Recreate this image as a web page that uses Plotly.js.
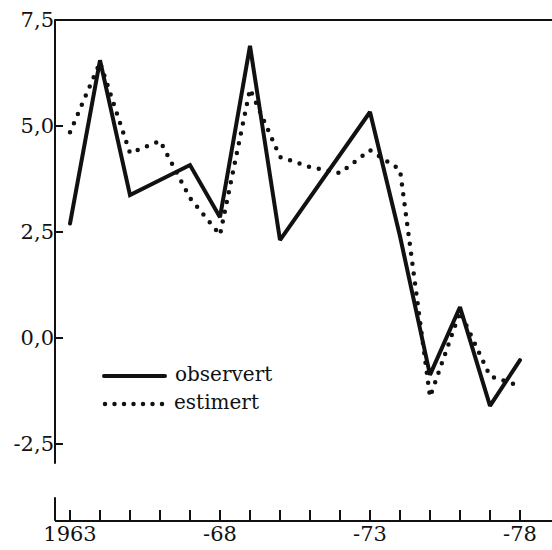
<!DOCTYPE html>
<html>
<head>
<meta charset="utf-8">
<script src="https://cdn.plot.ly/plotly-3.0.1.min.js"></script>
<style>
html, body { margin:0; padding:0; background:#fff; }
#chart { width:552px; height:550px; }
.scatterlayer .js-line { stroke-linecap: round !important; }
.shapelayer path { stroke-linecap: round !important; }
</style>
</head>
<body>
<div id="chart"></div>
<script>
// ---- data ----
var years = [1963,1964,1965,1966,1967,1968,1969,1970,1971,1972,1973,1974,1975,1976,1977,1978];
var observert = [2.7, 6.55, 3.37, 3.72, 4.08, 2.85, 6.89, 2.31, 3.32, 4.32, 5.33, 2.4, -0.87, 0.73, -1.6, -0.52];
var estimert  = [4.85, 6.5, 4.36, 4.65, 3.3, 2.43, 5.87, 4.27, 4.03, 3.89, 4.43, 3.97, -1.39, 0.62, -0.9, -1.13];
var xTickLabels = {1963:'1963', 1968:'-68', 1973:'-73', 1978:'-78'};
var yTickVals = [7.5, 5.0, 2.5, 0.0, -2.5];
var yTickText = ['7,5', '5,0', '2,5', '0,0', '-2,5'];
var seriesNames = ['observert', 'estimert'];

// ---- layout helpers ----
var W = 552, H = 550, ML = 55, MR = 0, MT = 20, MB = 30;
function px(x) { return (x - ML) / (W - ML - MR); }
function py(y) { return (H - MB - y) / (H - MT - MB); }
var ink = '#111';
var font = 'DejaVu Serif';

var xText = years.map(function(y){ return xTickLabels[y] || ''; });

var traces = [
  { x: years, y: observert, type: 'scatter', mode: 'lines', name: seriesNames[0],
    line: { color: ink, width: 4 }, hoverinfo: 'skip' },
  { x: years, y: estimert, type: 'scatter', mode: 'lines', name: seriesNames[1],
    line: { color: ink, width: 4.5, dash: '0px,10px' }, hoverinfo: 'skip' }
];

var layout = {
  width: W, height: H,
  margin: { l: ML, r: MR, t: MT, b: MB, pad: 0 },
  paper_bgcolor: '#fff', plot_bgcolor: '#fff',
  showlegend: false,
  font: { family: font, size: 21, color: ink },
  xaxis: {
    range: [1962.5, 1962.5 + (W - ML - MR) / 30],
    tickmode: 'array', tickvals: years, ticktext: xText,
    ticks: 'inside', ticklen: 10, tickwidth: 1.5, tickcolor: ink,
    ticklabelstandoff: -6,
    tickfont: { family: font, size: 21, color: ink },
    showline: true, linewidth: 2, linecolor: ink,
    showgrid: false, zeroline: false, fixedrange: true
  },
  yaxis: {
    range: [7.5 - (H - MT - MB) / 42.4, 7.5],
    tickmode: 'array', tickvals: yTickVals, ticktext: yTickText,
    ticks: 'inside', ticklen: 8, tickwidth: 1.5, tickcolor: ink,
    tickfont: { family: font, size: 21, color: ink },
    showline: false, showgrid: false, zeroline: false, fixedrange: true
  },
  shapes: [
    { type: 'line', xref: 'paper', yref: 'y', x0: 0, x1: 0, y0: -2.95, y1: 7.5, line: { color: ink, width: 2 } },
    { type: 'line', xref: 'paper', yref: 'paper', x0: 0, x1: 0, y0: py(498), y1: 0, line: { color: ink, width: 2 } },
    { type: 'line', xref: 'paper', yref: 'paper', x0: 0, x1: 1, y0: 1, y1: 1, line: { color: ink, width: 2 } },
    { type: 'line', xref: 'paper', yref: 'paper', x0: px(104), x1: px(165), y0: py(376), y1: py(376), line: { color: ink, width: 4 } },
    { type: 'line', xref: 'paper', yref: 'paper', x0: px(105), x1: px(163), y0: py(404), y1: py(404), line: { color: ink, width: 4.5, dash: '0px,9.5px' } }
  ],
  annotations: [
    { xref: 'paper', yref: 'paper', x: px(173), y: py(374), xanchor: 'left', yanchor: 'middle',
      text: seriesNames[0], showarrow: false, font: { family: font, size: 20, color: ink } },
    { xref: 'paper', yref: 'paper', x: px(172), y: py(402), xanchor: 'left', yanchor: 'middle',
      text: seriesNames[1], showarrow: false, font: { family: font, size: 20, color: ink } }
  ]
};

Plotly.newPlot('chart', traces, layout, { staticPlot: true, displayModeBar: false });
</script>
</body>
</html>
